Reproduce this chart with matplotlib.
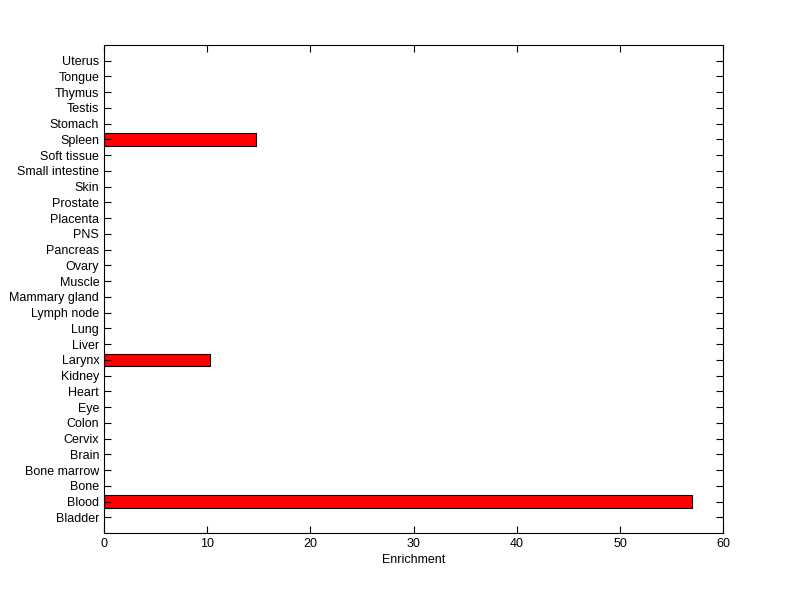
import matplotlib
matplotlib.use("Agg")
import matplotlib.pyplot as plt
import numpy as np

tissues = ['Bladder', 'Blood', 'Bone', 'Bone marrow', 'Brain', 'Cervix', 'Colon',
           'Eye', 'Heart', 'Kidney', 'Larynx', 'Liver', 'Lung', 'Lymph node',
           'Mammary gland', 'Muscle', 'Ovary', 'Pancreas', 'PNS', 'Placenta',
           'Prostate', 'Skin', 'Small intestine', 'Soft tissue', 'Spleen',
           'Stomach', 'Testis', 'Thymus', 'Tongue', 'Uterus']
enrichment = [0, 57.0, 0, 0, 0, 0, 0, 0, 0, 0, 10.3, 0, 0, 0, 0, 0, 0, 0, 0, 0,
              0, 0, 0, 0, 14.7, 0, 0, 0, 0, 0]

plt.rcParams['font.family'] = ['Liberation Sans', 'DejaVu Sans']

fig = plt.figure(figsize=(8, 5.99), dpi=100)
ax = fig.add_axes([0.13, 0.1102, 0.774, 0.8147])

pos = np.arange(1, len(tissues) + 1)
vals = np.array(enrichment)
mask = vals > 0
ax.barh(pos[mask], vals[mask], height=0.8, color='red', edgecolor='black', linewidth=0.8)

ax.set_xlim(0, 60)
ax.set_ylim(0, len(tissues) + 1)
ax.set_xticks(range(0, 61, 10))
ax.set_yticks(pos)
ax.set_yticklabels(tissues)
ax.set_xlabel('Enrichment', fontsize=9, labelpad=3)
ax.tick_params(direction='in', top=True, right=True, labelsize=9, length=5, width=0.8)
for s in ax.spines.values():
    s.set_linewidth(0.8)

fig.savefig('out.png', dpi=100)
